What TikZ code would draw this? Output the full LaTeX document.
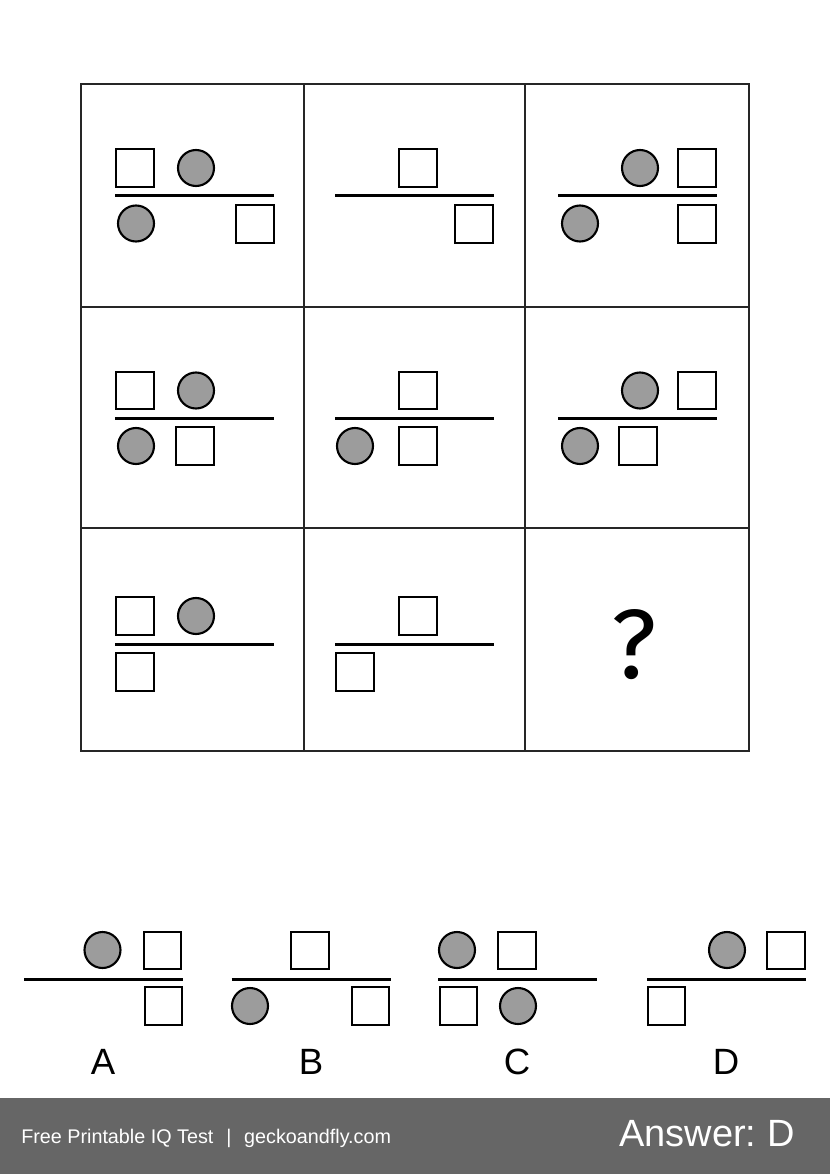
\documentclass[tikz,border=0pt]{standalone}
\usepackage{fontspec}
\setmainfont{Liberation Sans}
\newfontfamily\queryfont{Fira Sans}
\definecolor{discgray}{HTML}{9C9C9C}
\definecolor{bandgray}{HTML}{666666}
\tikzset{
gridline/.style={line width=0.75pt, color=black!85},
sq/.pic={
  \draw[line width=1.6pt] (-18.7,-18.7) rectangle (18.7,18.7);
  },
disc/.pic={
  \draw[line width=1.5pt, fill=discgray] (0,0) circle [radius=18];
  },
bar/.pic={
  \draw[line width=2.3pt] (-79.5,0) -- (79.5,0);
  },
letter/.style={font=\fontsize{26}{26}\selectfont},
bandtext/.style={text=white, anchor=base west, inner sep=0pt}
}

\begin{document}
\begin{tikzpicture}[x=0.025cm,y=-0.025cm]
\useasboundingbox (0,0) rectangle (830,1174);
\fill[bandgray] (0,1098) rectangle (830,1174);

% grid
\draw[gridline] (81,84) rectangle (749,751);
\draw[gridline] (304,84) -- (304,751);
\draw[gridline] (525,84) -- (525,751);
\draw[gridline] (81,307) -- (749,307);
\draw[gridline] (81,528) -- (749,528);

% row 1
\pic at (194.5,195.5) {bar};
\pic at (135,168) {sq};
\pic at (196,168) {disc};
\pic at (136,223.5) {disc};
\pic at (255,224) {sq};
\pic at (414.5,195.5) {bar};
\pic at (418,168) {sq};
\pic at (474,224) {sq};
\pic at (637.5,195.5) {bar};
\pic at (640,168) {disc};
\pic at (697,168) {sq};
\pic at (580,223.5) {disc};
\pic at (697,224) {sq};

% row 2
\pic at (194.5,418.5) {bar};
\pic at (135,390.5) {sq};
\pic at (196,390.5) {disc};
\pic at (136,446) {disc};
\pic at (195,446) {sq};
\pic at (414.5,418.5) {bar};
\pic at (418,390.5) {sq};
\pic at (355,446) {disc};
\pic at (418,446) {sq};
\pic at (637.5,418.5) {bar};
\pic at (640,390.5) {disc};
\pic at (697,390.5) {sq};
\pic at (580,446) {disc};
\pic at (638,446) {sq};

% row 3
\pic at (194.5,644.5) {bar};
\pic at (135,616) {sq};
\pic at (196,616) {disc};
\pic at (135,672) {sq};
\pic at (414.5,644.5) {bar};
\pic at (418,616) {sq};
\pic at (355,672) {sq};
\node[font=\queryfont\fontsize{70}{70}\selectfont] (query) at (634,645) {?};

% choices
\pic at (103.5,979.5) {bar};
\pic at (102.5,950) {disc};
\pic at (162.5,950.5) {sq};
\pic at (163.5,1006) {sq};
\pic at (311,979.5) {bar};
\pic at (310,950.5) {sq};
\pic at (250,1006) {disc};
\pic at (370.5,1006) {sq};
\pic at (517.5,979.5) {bar};
\pic at (457,950) {disc};
\pic at (517,950.5) {sq};
\pic at (458.5,1006) {sq};
\pic at (518,1006) {disc};
\pic at (726.5,979.5) {bar};
\pic at (727,950) {disc};
\pic at (786,950.5) {sq};
\pic at (666.5,1006) {sq};

\node[letter] (choiceA) at (103,1062) {A};
\node[letter] (choiceB) at (311,1062) {B};
\node[letter] (choiceC) at (517,1062) {C};
\node[letter] (choiceD) at (726,1062) {D};

% band
\node[bandtext, font=\fontsize{14.05}{14.05}\selectfont] (credit) at (21,1143) {Free Printable IQ Test\hspace{0.65em}|\hspace{0.65em}geckoandfly.com};
\node[bandtext, font=\fontsize{27}{27}\selectfont] (answer) at (619,1146) {Answer:\hspace{0.3em}D};
\end{tikzpicture}
\end{document}
